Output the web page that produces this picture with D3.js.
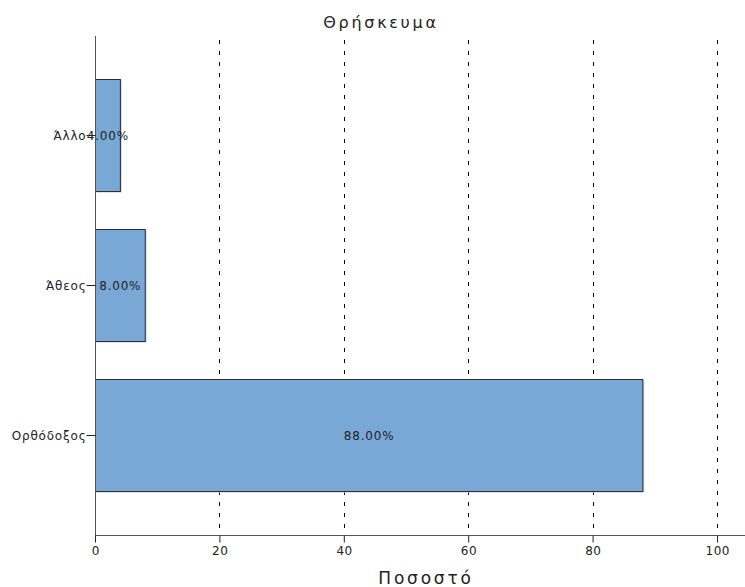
<!DOCTYPE html>
<html><head><meta charset="utf-8">
<script src="https://cdn.jsdelivr.net/npm/d3@7/dist/d3.min.js"></script>
<style>body{margin:0;background:#fff;} text{font-family:"DejaVu Sans",sans-serif;}</style>
</head><body>
<svg id="chart" width="745" height="587"></svg>
<script>
const categories = ["Άλλο", "Άθεος", "Ορθόδοξος"];
const values = [4.0, 8.0, 88.0];
const xTicks = [0, 20, 40, 60, 80, 100];
const title = "Θρήσκευμα";
const xTitle = "Ποσοστό";

(function () {
const svg = d3.select("#chart");
const mLeft = 95, mRight = 745, mTop = 36, mBottom = 535;
const x = d3.scaleLinear().domain([0, 100]).range([mLeft, mLeft + 622]);
const y = d3.scaleBand().domain(categories).range([mTop, mBottom]).paddingInner(0.253).paddingOuter(0.29);

// grid
svg.append("g").selectAll("line").data(xTicks.filter(d => d > 0)).join("line")
  .attr("x1", d => Math.round(x(d)) + 0.5).attr("x2", d => Math.round(x(d)) + 0.5)
  .attr("y1", mTop + 4).attr("y2", mBottom)
  .attr("stroke", "#000").attr("stroke-width", 1).attr("stroke-dasharray", "4,7");

// bars
const bars = svg.append("g");
categories.forEach((c, i) => {
  const y0 = Math.round(y(c)) + 0.5;
  const w = x(values[i]) - x(0);
  bars.append("rect").attr("x", x(0) + 2).attr("y", y0 + 1).attr("width", w).attr("height", y.bandwidth())
    .attr("fill", "#d8d8d8");
  bars.append("rect").attr("x", x(0) + 0.5).attr("y", y0).attr("width", w).attr("height", y.bandwidth())
    .attr("fill", "#79a8d6").attr("stroke", "#2b2b2b").attr("stroke-width", 1);
  bars.append("text").attr("x", x(0) + w / 2 + 0.4).attr("y", y(c) + y.bandwidth() / 2 + 4.5)
    .attr("text-anchor", "middle").attr("font-size", 12).attr("letter-spacing", 0.8).attr("fill", "#222")
    .text(values[i].toFixed(2) + "%");
});

// y axis
const ya = svg.append("g").attr("transform", `translate(${mLeft + 0.5},0)`)
  .call(d3.axisLeft(y).tickSize(9).tickSizeOuter(0));
ya.select(".domain").attr("stroke", "#555").attr("d", `M0,${mTop}V${mBottom}`);
ya.selectAll(".tick line").attr("stroke", "#222");
ya.selectAll(".tick text").attr("font-size", 12).attr("letter-spacing", 0.8).attr("fill", "#222")
  .attr("x", -9).attr("dy", "0.35em").style("font-family", "DejaVu Sans");

// x axis
const xa = svg.append("g").attr("transform", `translate(0,${mBottom + 0.5})`)
  .call(d3.axisBottom(x).tickValues(xTicks).tickSize(7).tickSizeOuter(0));
xa.select(".domain").attr("stroke", "#555").attr("d", `M${mLeft},0H${mRight}`);
xa.selectAll(".tick line").attr("stroke", "#222");
xa.selectAll(".tick text").attr("font-size", 12).attr("letter-spacing", 0.5).attr("fill", "#222")
  .attr("dx", "0.25").attr("dy", "0.8em").style("font-family", "DejaVu Sans");

svg.append("text").attr("x", 381).attr("y", 28).attr("text-anchor", "middle")
  .attr("font-size", 16).attr("letter-spacing", 2.7).attr("fill", "#222").text(title);
svg.append("text").attr("x", 426).attr("y", 584).attr("text-anchor", "middle")
  .attr("font-size", 17).attr("letter-spacing", 2.8).attr("fill", "#222").text(xTitle);
})();
</script>
</body></html>
